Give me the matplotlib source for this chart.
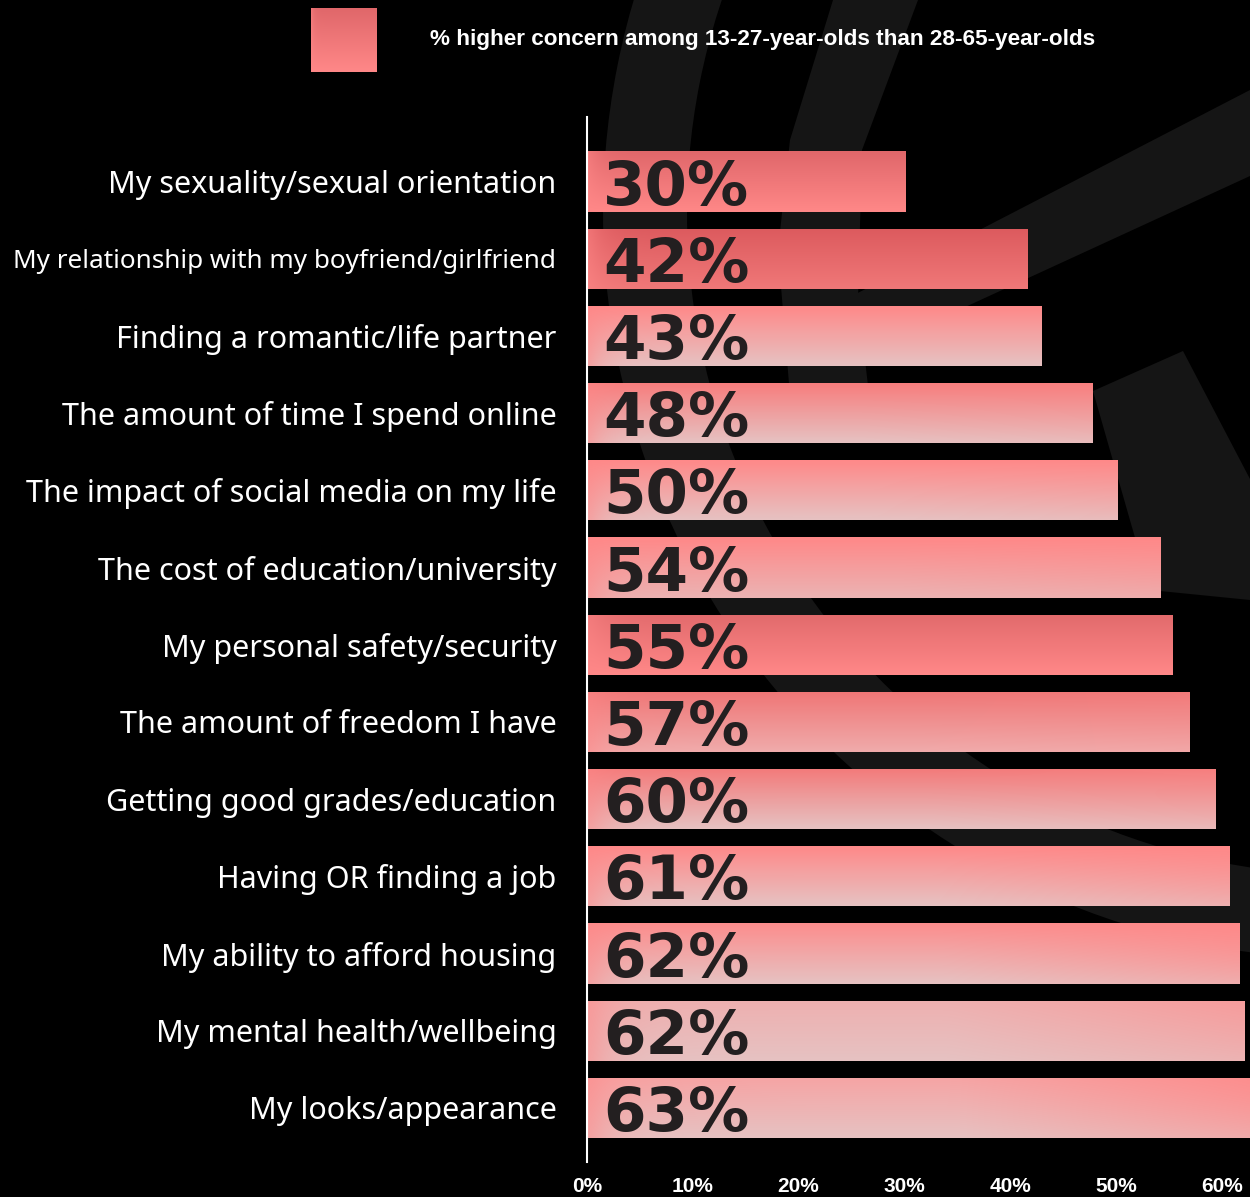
import matplotlib

matplotlib.use("Agg")
import matplotlib.pyplot as plt
import numpy as np
from matplotlib.colors import to_rgb
from matplotlib.patches import Polygon, Wedge

W, H = 1250, 1197

categories = [
    "My sexuality/sexual orientation",
    "My relationship with my boyfriend/girlfriend",
    "Finding a romantic/life partner",
    "The amount of time I spend online",
    "The impact of social media on my life",
    "The cost of education/university",
    "My personal safety/security",
    "The amount of freedom I have",
    "Getting good grades/education",
    "Having OR finding a job",
    "My ability to afford housing",
    "My mental health/wellbeing",
    "My looks/appearance",
]
values = [30.1, 41.6, 43.0, 47.8, 50.1, 54.2, 55.3, 56.9, 59.4, 60.7, 61.7, 62.1, 63.3]
value_labels = ["30%", "42%", "43%", "48%", "50%", "54%", "55%", "57%",
                "60%", "61%", "62%", "62%", "63%"]
x_ticks = [0, 10, 20, 30, 40, 50, 60]
legend_text = "% higher concern among 13-27-year-olds than 28-65-year-olds"

DEEP = "#dc5a5e"
CORAL = "#ff8888"
BLUSH = "#e6c2c2"
# (top colour, bottom colour, right-end tint) for each bar's gradient
bar_styles = [
    ("#e0676a", CORAL, 0.0),
    (DEEP, "#f07878", 0.0),
    (CORAL, BLUSH, 0.0),
    ("#f77c7c", BLUSH, 0.2),
    (CORAL, BLUSH, 0.2),
    (CORAL, "#ebb3b3", 0.3),
    ("#e26a6c", CORAL, 0.0),
    ("#ef7676", "#f0abab", 0.2),
    ("#f37a7a", BLUSH, 0.3),
    (CORAL, BLUSH, 0.6),
    ("#fc8d8d", BLUSH, 0.7),
    ("#eeb0b0", BLUSH, 0.5),
    ("#f6a4a4", BLUSH, 0.8),
]


def gradient(top, bottom, tint, n=80):
    t = np.linspace(0, 1, n)[:, None, None]
    x = np.linspace(0, 1, n)[None, :, None]
    img = np.array(to_rgb(top)) * (1 - t) + np.array(to_rgb(bottom)) * t
    img = img * np.ones((1, n, 1))
    left = np.exp(-x / 0.04) * 0.55
    right = tint * np.clip((x - 0.55) / 0.45, 0, 1) * (1 - 0.5 * t)
    weight = np.clip(left + right, 0, 1)
    img = img * (1 - weight) + np.array(to_rgb(CORAL)) * weight
    return img


plt.rcParams["font.family"] = "DejaVu Sans"
fig = plt.figure(figsize=(W / 100, H / 100), dpi=100, facecolor="black")

# decorative background shapes in pixel coordinates (y from top)
bg = fig.add_axes([0, 0, 1, 1], zorder=0)
bg.axis("off")
shade = "#151515"


def flip(points):
    return [(x, H - y) for x, y in points]


bg.add_patch(Wedge((1350, H - 212), 747, 90, 300, width=84, color=shade, lw=0))
bg.add_patch(Polygon(flip([(833, 0), (918, 0), (862, 150), (858, 300),
                           (872, 420), (792, 420), (778, 250), (790, 140)]),
                     color=shade, lw=0))
bg.add_patch(Polygon(flip([(1250, 90), (1250, 176), (850, 360), (850, 297)]),
                     color=shade, lw=0))
bg.add_patch(Polygon(flip([(1093, 391), (1183, 351), (1250, 479),
                           (1250, 600), (1150, 590)]), color=shade, lw=0))

# legend swatch and text
bg.imshow(gradient("#e0676a", CORAL, 0.0), extent=(311, 377, H - 72, H - 8),
          aspect="auto", interpolation="bicubic", zorder=2)
bg.set_xlim(0, W)
bg.set_ylim(0, H)
fig.text(430 / W, 1 - 40 / H, legend_text, color="white", fontsize=16.2,
         fontweight="bold", family="Liberation Sans", ha="left", va="center")

ax = fig.add_axes([587 / W, 1 - 1162 / H, (W - 587) / W, (1162 - 117) / H], zorder=1)
ax.patch.set_alpha(0)
y = np.arange(len(categories))
bars = ax.barh(y, values, height=0.78, color="none", lw=0)
for bar, style in zip(bars, bar_styles):
    x0, y0 = bar.get_x(), bar.get_y()
    im = ax.imshow(gradient(*style), extent=(x0, x0 + bar.get_width(),
                                              y0 + bar.get_height(), y0),
                   aspect="auto", interpolation="bicubic", zorder=1)
    im.set_clip_path(bar)

for i, label in enumerate(value_labels):
    ax.annotate(label, xy=(0, i), xytext=(11.5, 0), textcoords="offset points",
                ha="left", va="center_baseline", fontsize=44, fontweight="bold",
                color="#231f20", zorder=3)

ax.set_xlim(0, 62.66)
ax.set_ylim(len(categories) - 1 + 0.70, -0.836)
ax.set_xticks(x_ticks, [f"{t}%" for t in x_ticks])
ax.set_yticks(y, categories)
for tick in ax.get_xticklabels():
    tick.set_fontfamily("Liberation Sans")
    tick.set_fontweight("bold")
    tick.set_fontsize(15)
    tick.set_color("white")
for i, tick in enumerate(ax.get_yticklabels()):
    tick.set_fontfamily("Noto Sans")
    tick.set_fontsize(18.8 if i == 1 else 22)
    tick.set_color("white")
ax.tick_params(axis="x", length=0, pad=10.5)
ax.tick_params(axis="y", length=0, pad=22)
for side in ["top", "right", "bottom"]:
    ax.spines[side].set_visible(False)
ax.spines["left"].set_color("white")
ax.spines["left"].set_linewidth(1.5)

fig.savefig("out.png", dpi=100, facecolor="black")
